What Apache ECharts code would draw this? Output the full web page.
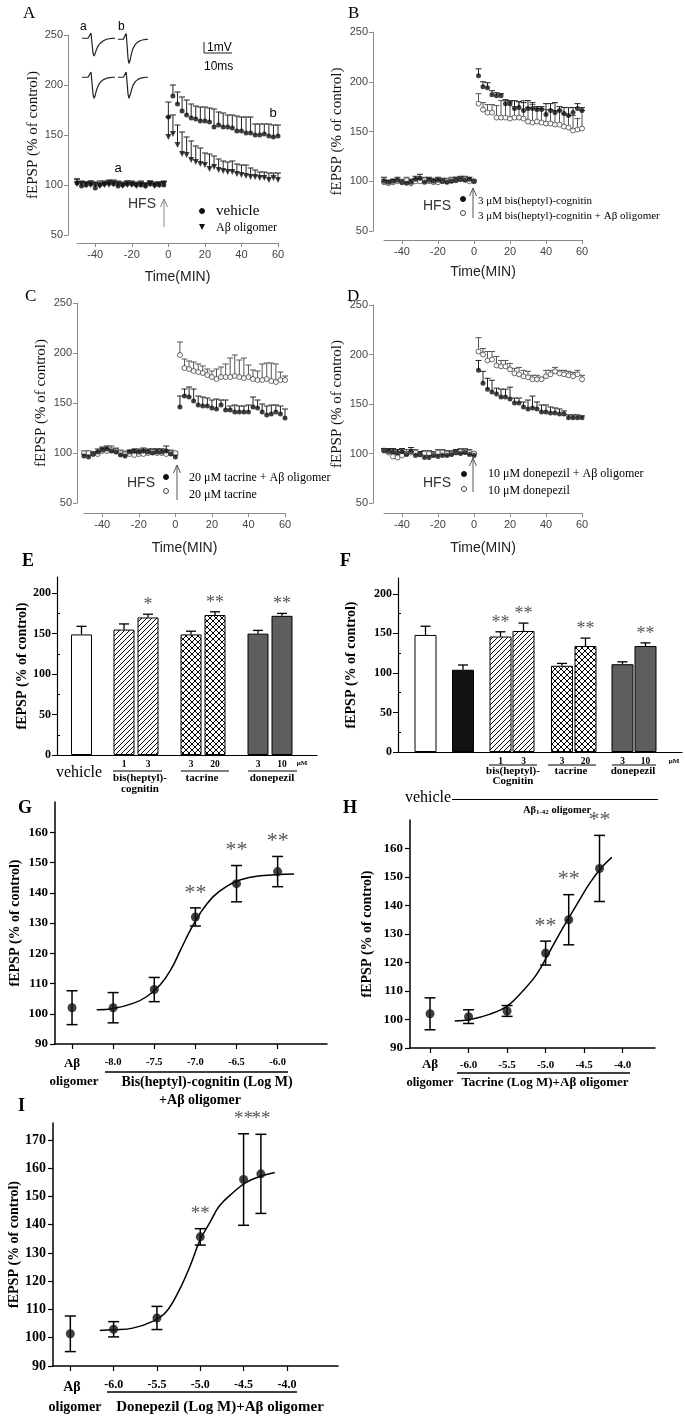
<!DOCTYPE html>
<html><head><meta charset="utf-8">
<script src="https://cdn.jsdelivr.net/npm/echarts@6.0.0/dist/echarts.min.js"></script>
<style>html,body{margin:0;padding:0;background:#fff}#c{width:685px;height:1417px}</style>
</head><body><div id="c"></div>
<script>
// ===================== DATA =====================
// Time-course panels (minutes)
const TIME_TICKS = [-40,-20,0,20,40,60];
const PRE_A  = [-50,-47.5,-45,-42.5,-40,-37.5,-35,-32.5,-30,-27.5,-25,-22.5,-20,-17.5,-15,-12.5,-10,-7.5,-5,-2.5];
const POST_A = [0,2.5,5,7.5,10,12.5,15,17.5,20,22.5,25,27.5,30,32.5,35,37.5,40,42.5,45,47.5,50,52.5,55,57.5,60];
const PRE  = [-50,-47.5,-45,-42.5,-40,-37.5,-35,-32.5,-30,-27.5,-25,-22.5,-20,-17.5,-15,-12.5,-10,-7.5,-5,-2.5,0];
const POST = [2.5,5,7.5,10,12.5,15,17.5,20,22.5,25,27.5,30,32.5,35,37.5,40,42.5,45,47.5,50,52.5,55,57.5,60];

// A: vehicle (filled circle) / A-beta oligomer (triangle)
const A_VEH_PRE      = [102,99,100,101,97,100,101,102,101,99,100,101,101,100,100,99,101,100,100,100];
const A_VEH_PRE_ERR  = [4,3,3,3,3,4,3,3,4,5,3,3,3,3,3,3,3,3,3,3];
const A_OLI_PRE      = [101,101,100,100,100,99,100,100,101,100,99,100,100,99,100,99,101,99,100,101];
const A_OLI_PRE_ERR  = [5,3,3,4,3,3,3,4,3,3,3,4,3,3,4,3,3,3,3,3];
const A_VEH_POST     = [168,189,181,174,170,167,166,164,164,163,158,160,158,158,157,154,154,152,152,150,150,151,149,148,149];
const A_VEH_POST_ERR = [15,11,12,14,15,14,13,14,14,14,18,13,14,12,13,15,14,16,16,11,11,10,12,12,11];
const A_OLI_POST     = [148,151,140,131,130,125,123,121,120,116,118,115,114,113,113,111,110,109,108,108,107,107,105,107,105];
const A_OLI_POST_ERR = [20,19,20,22,18,19,16,16,12,15,11,11,10,10,11,10,10,11,9,7,6,6,7,5,7];

// A inset traces (mV)
const TRACE_VEH_A = [0,0,0,0,0,0,0,0,0,0.5,-0.5,-1.4,-1.7,-1.5,-1.2,-0.95,-0.75,-0.6,-0.5,-0.4,-0.32,-0.26,-0.2,-0.16,-0.12,-0.09,-0.07,-0.05,-0.03,-0.02,-0.01,0,0,0];
const TRACE_VEH_B = [0,0,0,0,0,0,0,0,0,0.6,-0.6,-1.8,-2.3,-2.1,-1.7,-1.3,-1.0,-0.8,-0.65,-0.5,-0.4,-0.32,-0.25,-0.2,-0.15,-0.12,-0.09,-0.07,-0.05,-0.03,-0.02,-0.01,0,0];
const TRACE_OLI_A = [0,0,0,0,0,0,0,0,0,0.5,-0.5,-1.6,-2.0,-1.8,-1.4,-1.1,-0.85,-0.65,-0.5,-0.4,-0.32,-0.25,-0.2,-0.15,-0.12,-0.09,-0.07,-0.05,-0.03,-0.02,-0.01,0,0,0];
const TRACE_OLI_B = [0,0,0,0,0,0,0,0,0,0.5,-0.5,-1.6,-2.0,-1.85,-1.5,-1.15,-0.9,-0.7,-0.55,-0.42,-0.33,-0.26,-0.2,-0.15,-0.12,-0.09,-0.07,-0.05,-0.03,-0.02,-0.01,0,0,0];

// B: 3 uM bis(heptyl)-cognitin (filled) / + A-beta oligomer (open)
const B_FILL_PRE      = [100,99,100,101,99,98,99,102,103,99,101,100,101,100,99,100,101,102,101,102,100];
const B_FILL_PRE_ERR  = [4,2,2,3,2,2,3,3,4,2,3,2,3,3,2,2,3,3,3,2,1];
const B_OPEN_PRE      = [99,98,99,100,99,101,98,100,100,101,100,99,99,100,100,101,101,102,102,100,100];
const B_OPEN_PRE_ERR  = [3,2,3,2,3,3,4,3,3,3,3,4,3,2,3,3,3,2,3,2,1];
const B_FILL_POST     = [206,195,194,187,186,186,178,178,173,174,171,173,173,172,172,167,171,169,171,168,166,169,173,171];
const B_FILL_POST_ERR = [7,5,5,4,3,2,4,3,8,6,8,8,6,3,3,11,7,10,4,6,8,5,5,3];
const B_OPEN_POST     = [178,172,169,169,164,164,164,163,164,164,163,160,159,160,159,158,158,157,157,155,154,151,152,153];
const B_OPEN_POST_ERR = [10,7,8,8,12,17,17,17,11,16,18,14,18,13,14,14,14,14,14,13,12,15,11,18];

// C: 20 uM tacrine + A-beta (filled) / 20 uM tacrine (open)
const C_FILL_PRE      = [97,96,99,101,103,104,102,101,98,97,101,102,101,102,101,100,101,101,102,99,96];
const C_FILL_PRE_ERR  = [2,2,2,3,3,3,2,3,3,3,2,2,3,3,3,4,3,3,5,3,2];
const C_OPEN_PRE      = [100,100,99,99,102,102,103,102,100,99,99,98,99,99,100,101,100,100,99,100,100];
const C_OPEN_PRE_ERR  = [2,2,2,2,3,3,4,3,3,3,3,3,3,4,3,3,4,4,4,3,1];
const C_FILL_POST     = [146,157,156,152,148,147,147,145,144,148,143,143,141,141,141,141,146,145,141,138,139,141,139,135];
const C_FILL_POST_ERR = [11,7,10,12,9,9,8,8,10,5,10,4,7,6,6,7,10,8,8,9,9,7,8,9];
const C_OPEN_POST     = [198,185,184,182,181,180,178,176,174,176,176,176,177,176,175,176,174,173,173,174,172,171,173,173];
const C_OPEN_POST_ERR = [13,9,8,9,8,7,6,6,10,10,13,19,21,17,20,12,9,9,16,16,18,18,8,4];

// D: 10 uM donepezil + A-beta (filled) / 10 uM donepezil (open)
const D_FILL_PRE      = [103,102,102,101,102,99,102,98,99,96,96,98,97,98,98,99,101,100,101,99,98];
const D_FILL_PRE_ERR  = [2,3,3,3,3,3,4,3,3,3,2,3,3,3,3,3,3,3,3,3,2];
const D_OPEN_PRE      = [103,101,97,96,98,100,101,101,99,100,100,99,101,101,100,100,101,102,102,101,100];
const D_OPEN_PRE_ERR  = [2,3,3,3,3,4,3,3,3,3,3,3,3,3,3,3,3,3,3,3,1];
const D_FILL_POST     = [184,171,165,162,160,157,157,155,151,151,147,145,146,145,142,142,141,141,140,140,136,136,136,136];
const D_FILL_POST_ERR = [10,12,11,12,6,8,8,12,5,5,5,9,12,7,7,7,6,5,5,3,3,3,3,2];
const D_OPEN_POST     = [203,200,194,195,189,188,188,185,181,180,178,177,175,175,175,178,180,183,181,180,179,178,180,175];
const D_OPEN_POST_ERR = [14,6,9,8,9,6,6,6,5,7,6,6,4,4,2,6,4,4,3,4,4,4,4,4];

// E: bars
const E_DOSE  = ['', '1','3','3','20','3','10'];
const E_VALS  = [149,155,170,149,173,150,172];
const E_ERR   = [10,7,4,4,4,4,3];
const E_STARS = ['','','*','','**','','**'];
// F: bars
const F_DOSE  = ['', '', '1','3','3','20','3','10'];
const F_VALS  = [148,104,146,153,109,134,111,134];
const F_ERR   = [11,6,6,10,3,10,3,4];
const F_STARS = ['','','**','**','','**','','**'];

// G: bis(heptyl)-cognitin dose response (first x = A-beta oligomer alone)
const G_X = [-8.5,-8,-7.5,-7,-6.5,-6];
const G_Y = [102,102,108,132,143,147];
const G_ERR = [5.6,5,4,3,6,5];
const G_STARS = ['','','','**','**','**'];
const G_TICKS = [-8.0,-7.5,-7.0,-6.5,-6.0];
const G_FIT_X = [-8.2,-8.0,-7.75,-7.59,-7.43,-7.3,-7.18,-7.06,-6.94,-6.78,-6.61,-6.45,-6.21,-5.8];
const G_FIT_Y = [101.3,101.7,103.5,105.7,109.5,114.5,121.1,127.7,133.3,138.8,142.3,144.3,145.6,146.2];
// H: tacrine
const H_X = [-6.5,-6,-5.5,-5,-4.7,-4.3];
const H_Y = [102,101,103,123.3,135,153];
const H_ERR = [5.6,2.4,1.9,4.2,8.8,11.6];
const H_STARS = ['','','','**','**','**'];
const H_TICKS = [-6.0,-5.5,-5.0,-4.5,-4.0];
const H_FIT_X = [-6.18,-5.98,-5.72,-5.5,-5.29,-5.11,-4.94,-4.77,-4.59,-4.42,-4.25,-4.14];
const H_FIT_Y = [99.5,100.0,101.9,104.7,110.2,116.1,124.2,132.4,140.6,148.1,154.0,156.9];
// I: donepezil
const I_X = [-6.5,-6,-5.5,-5,-4.5,-4.3];
const I_Y = [101.4,103,107,135.7,156,158];
const I_ERR = [6.3,2.7,4.1,2.9,16.2,14];
const I_STARS = ['','','','**','**','**'];
const I_TICKS = [-6.0,-5.5,-5.0,-4.5,-4.0];
const I_FIT_X = [-6.16,-6.0,-5.78,-5.55,-5.39,-5.24,-5.12,-5.0,-4.89,-4.78,-4.62,-4.47,-4.31,-4.14];
const I_FIT_Y = [102.6,102.8,103.4,105.8,109.3,117.0,125.2,134.8,140.7,146.6,151.4,155.0,157.1,158.5];

// ===================== LAYOUT / STYLE =====================
const SERIF='"Liberation Serif","Times New Roman",serif';
const SANS='"Liberation Sans",Arial,sans-serif';
const E_POS = [24.5,67,91,134,158,201,225];
const F_POS = [27.5,65,102.5,125.5,164,187.5,224.5,247.5];
const E_FILLS = ['white','hatch','hatch','cross','cross','gray','gray'];
const F_FILLS = ['white','black','hatch','hatch','cross','cross','gray','gray'];

const option = {animation:false, backgroundColor:'#ffffff', grid:[], xAxis:[], yAxis:[], series:[], graphic:[]};
const GR = option.graphic;

function addAxes(g, x, y){
  option.grid.push(Object.assign({containLabel:false}, g));
  const gi = option.grid.length-1;
  option.xAxis.push(Object.assign({gridIndex:gi}, x));
  option.yAxis.push(Object.assign({gridIndex:gi}, y));
  return {gi, xi:option.xAxis.length-1, yi:option.yAxis.length-1};
}
function txt(x,y,text,o){
  o=o||{};
  const st={text, fill:o.color||'#000', font:(o.weight||'normal')+' '+(o.size||12)+'px '+(o.family||SERIF),
    align:o.align||'left', verticalAlign:'middle', textAlign:o.align||'left', textVerticalAlign:'middle'};
  if(o.rich) st.rich=o.rich;
  GR.push({type:'text', x, y, silent:true, style:st});
}
function hline(x1,x2,y,w,c){ GR.push({type:'line', silent:true, shape:{x1,y1:y,x2,y2:y}, style:{stroke:c||'#000', lineWidth:w||1}}); }
function vline(x,y1,y2,w,c){ GR.push({type:'line', silent:true, shape:{x1:x,y1,x2:x,y2}, style:{stroke:c||'#000', lineWidth:w||1}}); }
function arrow(x,yb,yt,c){
  vline(x,yb,yt,1,c);
  GR.push({type:'polyline', silent:true, shape:{points:[[x-3.5,yt+8],[x,yt],[x+3.5,yt+8]]}, style:{stroke:c, fill:null, lineWidth:1}});
}
function dot(cx,cy,open){ GR.push({type:'circle', silent:true, shape:{cx,cy,r:2.5}, style:{fill:open?'#fff':'#111', stroke:open?'#444':'#111', lineWidth:1}}); }

// ---------- time course helpers ----------
function upperErr(ax,t,v,e,color){
  return {type:'custom', xAxisIndex:ax.xi, yAxisIndex:ax.yi, silent:true, clip:false, z:2,
    data:t.map((x,i)=>[x,v[i],e[i]]),
    renderItem(p,api){
      const x=api.value(0), y=api.value(1), er=api.value(2);
      const a=api.coord([x,y]), b=api.coord([x,y+er]);
      return {type:'group', children:[
        {type:'line', shape:{x1:a[0],y1:a[1],x2:b[0],y2:b[1]}, style:{stroke:color,lineWidth:1}},
        {type:'line', shape:{x1:b[0]-3,y1:b[1],x2:b[0]+3,y2:b[1]}, style:{stroke:color,lineWidth:1}}]};
    }};
}
function pts(ax,t,v,kind){
  const s={type:'scatter', xAxisIndex:ax.xi, yAxisIndex:ax.yi, silent:true, z:3, data:t.map((x,i)=>[x,v[i]])};
  if(kind==='fill') Object.assign(s,{symbol:'circle',symbolSize:5,itemStyle:{color:'#111'}});
  if(kind==='open') Object.assign(s,{symbol:'circle',symbolSize:5,itemStyle:{color:'#fff',borderColor:'#444',borderWidth:1}});
  if(kind==='tri') Object.assign(s,{symbol:'triangle',symbolRotate:180,symbolSize:6,itemStyle:{color:'#111'}});
  return s;
}
function timeAxes(L){
  const gray='#8a8a8a';
  return addAxes({left:L.left, top:L.top, width:L.width, height:L.height},
    {type:'value', min:-50, max:60, offset:L.xOff,
     axisLine:{show:true,onZero:false,lineStyle:{color:gray,width:1}},
     axisTick:{show:true,length:4,customValues:TIME_TICKS,lineStyle:{color:gray}},
     axisLabel:{customValues:TIME_TICKS,color:'#444',fontFamily:SANS,fontSize:11,margin:6},
     splitLine:{show:false},
     name:'Time(MIN)', nameLocation:'middle', nameGap:L.xGap, nameTextStyle:{fontFamily:SANS,fontSize:14,color:'#222'}},
    {type:'value', min:50, max:250, interval:50, offset:L.yOff,
     axisLine:{show:true,onZero:false,lineStyle:{color:gray,width:1}},
     axisTick:{show:true,length:4,lineStyle:{color:gray}},
     axisLabel:{color:'#444',fontFamily:SANS,fontSize:11,margin:5},
     splitLine:{show:false},
     name:'fEPSP (% of control)', nameLocation:'middle', nameGap:L.yGap, nameTextStyle:{fontFamily:SERIF,fontSize:15,color:'#111'}});
}
function addGroup(ax,t,v,e,kind){
  option.series.push(upperErr(ax,t,v,e,kind==='open'?'#555':'#222'));
  option.series.push(pts(ax,t,v,kind));
}

// ---------- Panel A ----------
const axA = timeAxes({left:77,top:35,width:201,height:200,xOff:8,yOff:9,xGap:27,yGap:26});
addGroup(axA,PRE_A,A_OLI_PRE,A_OLI_PRE_ERR,'tri');
addGroup(axA,PRE_A,A_VEH_PRE,A_VEH_PRE_ERR,'fill');
addGroup(axA,POST_A,A_OLI_POST,A_OLI_POST_ERR,'tri');
addGroup(axA,POST_A,A_VEH_POST,A_VEH_POST_ERR,'fill');
// inset traces
function traceGrid(left,top,w,data){
  const ax = addAxes({left,top,width:w,height:31.5},
    {type:'category', show:false, boundaryGap:false, data:data.map((_,i)=>i)},
    {type:'value', show:false, min:-2.5, max:0.5});
  option.series.push({type:'line', xAxisIndex:ax.xi, yAxisIndex:ax.yi, data, showSymbol:false, silent:true,
    lineStyle:{color:'#222',width:1.2}});
}
traceGrid(82,33,33,TRACE_VEH_A);
traceGrid(118,34,30,TRACE_VEH_B);
traceGrid(82,72,33,TRACE_OLI_A);
traceGrid(118,72,30,TRACE_OLI_B);

// ---------- Panel B ----------
const axB = timeAxes({left:384,top:32,width:198,height:199,xOff:9,yOff:11,xGap:25,yGap:28});
addGroup(axB,PRE,B_OPEN_PRE,B_OPEN_PRE_ERR,'open');
addGroup(axB,PRE,B_FILL_PRE,B_FILL_PRE_ERR,'fill');
addGroup(axB,POST,B_OPEN_POST,B_OPEN_POST_ERR,'open');
addGroup(axB,POST,B_FILL_POST,B_FILL_POST_ERR,'fill');
// ---------- Panel C ----------
const axC = timeAxes({left:84,top:303,width:201,height:200,xOff:10,yOff:7,xGap:28,yGap:28});
addGroup(axC,PRE,C_OPEN_PRE,C_OPEN_PRE_ERR,'open');
addGroup(axC,PRE,C_FILL_PRE,C_FILL_PRE_ERR,'fill');
addGroup(axC,POST,C_OPEN_POST,C_OPEN_POST_ERR,'open');
addGroup(axC,POST,C_FILL_POST,C_FILL_POST_ERR,'fill');
// ---------- Panel D ----------
const axD = timeAxes({left:384,top:305,width:198,height:198,xOff:10,yOff:11,xGap:28,yGap:28});
addGroup(axD,PRE,D_OPEN_PRE,D_OPEN_PRE_ERR,'open');
addGroup(axD,PRE,D_FILL_PRE,D_FILL_PRE_ERR,'fill');
addGroup(axD,POST,D_OPEN_POST,D_OPEN_POST_ERR,'open');
addGroup(axD,POST,D_FILL_POST,D_FILL_POST_ERR,'fill');

// ---------- bar panels ----------
function pattern(kind){
  const c=document.createElement('canvas');
  const s=kind==='cross'?6:5; c.width=s; c.height=s;
  const g=c.getContext('2d'); g.fillStyle='#fff'; g.fillRect(0,0,s,s);
  g.strokeStyle='#000'; g.lineWidth=1;
  g.beginPath(); g.moveTo(-1,s+1); g.lineTo(s+1,-1); g.moveTo(-1,1); g.lineTo(1,-1); g.moveTo(s-1,s+1); g.lineTo(s+1,s-1); g.stroke();
  if(kind==='cross'){ g.beginPath(); g.moveTo(-1,-1); g.lineTo(s+1,s+1); g.moveTo(s-1,-1); g.lineTo(s+1,1); g.moveTo(-1,s-1); g.lineTo(1,s+1); g.stroke(); }
  return {image:c, repeat:'repeat'};
}
const FILLS = {white:'#ffffff', black:'#111111', gray:'#5e5e5e', hatch:pattern('hatch'), cross:pattern('cross')};
function barAxes(L,pos,dose){
  const ax = addAxes({left:L.left,top:L.top,width:L.width,height:L.height},
    {type:'value', min:0, max:L.width,
     axisLine:{show:true,onZero:false,lineStyle:{color:'#000',width:1.2}},
     axisTick:{show:false}, splitLine:{show:false},
     axisLabel:{customValues:pos.filter((p,i)=>dose[i]!==''), formatter:v=>dose[pos.indexOf(v)],
       fontFamily:SERIF,fontWeight:'bold',fontSize:9.5,color:'#000',margin:5}},
    {type:'value', min:0, max:220,
     axisLine:{show:true,onZero:false,lineStyle:{color:'#000',width:1.2}},
     axisTick:{show:true,length:5,customValues:[0,50,100,150,200],lineStyle:{color:'#000'}},
     axisLabel:{customValues:[0,50,100,150,200],fontFamily:SERIF,fontWeight:'bold',fontSize:12,color:'#000',margin:6},
     splitLine:{show:false},
     name:'fEPSP (% of control)', nameLocation:'middle', nameGap:L.yGap,
     nameTextStyle:{fontFamily:SERIF,fontSize:14,fontWeight:'bold',color:'#000'}});
  option.yAxis.push({gridIndex:ax.gi, type:'value', min:0, max:220, axisLine:{show:false},
    axisTick:{show:true,length:3,customValues:[25,75,125,175],lineStyle:{color:'#000'}},
    axisLabel:{show:false}, splitLine:{show:false}});
  return ax;
}
function barSeries(ax,pos,vals,errs,stars,fills,width){
  option.series.push({type:'bar', xAxisIndex:ax.xi, yAxisIndex:ax.yi, barWidth:width, silent:true, z:2,
    data:vals.map((v,i)=>({value:[pos[i],v], itemStyle:{color:FILLS[fills[i]], borderColor:'#000', borderWidth:1}}))});
  option.series.push({type:'custom', xAxisIndex:ax.xi, yAxisIndex:ax.yi, silent:true, clip:false, z:3,
    data:vals.map((v,i)=>[pos[i],v,errs[i]]),
    renderItem(p,api){
      const x=api.value(0), y=api.value(1), e=api.value(2);
      const a=api.coord([x,y]), b=api.coord([x,y+e]);
      const ch=[{type:'line',shape:{x1:a[0],y1:a[1],x2:b[0],y2:b[1]},style:{stroke:'#000',lineWidth:1.3}},
        {type:'line',shape:{x1:b[0]-5,y1:b[1],x2:b[0]+5,y2:b[1]},style:{stroke:'#000',lineWidth:1.3}}];
      const s=stars[p.dataIndex];
      if(s) ch.push({type:'text',x:b[0],y:b[1]-9,style:{text:s,fill:'#555',font:'normal 18px '+SERIF,align:'center',verticalAlign:'middle'}});
      return {type:'group',children:ch};
    }});
}
const axE = barAxes({left:57,top:577,width:260,height:178,yGap:24},E_POS,E_DOSE);
barSeries(axE,E_POS,E_VALS,E_ERR,E_STARS,E_FILLS,21);
const axF = barAxes({left:398,top:578,width:284,height:174,yGap:40},F_POS,F_DOSE);
barSeries(axF,F_POS,F_VALS,F_ERR,F_STARS,F_FILLS,22);

// ---------- dose-response panels ----------
function drAxes(L,ticks,allTicks,yLabels){
  return addAxes({left:L.left,top:L.top,width:L.width,height:L.height},
    {type:'value', min:L.xmin, max:L.xmax,
     axisLine:{show:true,onZero:false,lineStyle:{color:'#000',width:1.5}},
     axisTick:{show:true,length:5,customValues:allTicks,lineStyle:{color:'#000',width:1.2}},
     axisLabel:{customValues:ticks, formatter:v=>v.toFixed(1), fontFamily:SERIF,fontWeight:'bold',fontSize:L.xfs,color:'#000',margin:L.xm},
     splitLine:{show:false}},
    {type:'value', min:90, max:L.ymax,
     axisLine:{show:true,onZero:false,lineStyle:{color:'#000',width:1.5}},
     axisTick:{show:true,length:5,customValues:yLabels,lineStyle:{color:'#000',width:1.2}},
     axisLabel:{customValues:yLabels,fontFamily:SERIF,fontWeight:'bold',fontSize:L.yfs,color:'#000',margin:7},
     splitLine:{show:false},
     name:'fEPSP (% of control)', nameLocation:'middle', nameGap:L.yGap,
     nameTextStyle:{fontFamily:SERIF,fontSize:14,fontWeight:'bold',color:'#000'}});
}
function drSeries(ax,xs,ys,es,stars,fx,fy,starSize){
  option.series.push({type:'line', xAxisIndex:ax.xi, yAxisIndex:ax.yi, silent:true, z:2, smooth:0.4, showSymbol:false,
    data:fx.map((x,i)=>[x,fy[i]]), lineStyle:{color:'#000',width:1.5}});
  option.series.push({type:'custom', xAxisIndex:ax.xi, yAxisIndex:ax.yi, silent:true, clip:false, z:3,
    data:xs.map((x,i)=>[x,ys[i],es[i]]),
    renderItem(p,api){
      const x=api.value(0), y=api.value(1), e=api.value(2);
      const lo=api.coord([x,y-e]), hi=api.coord([x,y+e]);
      const ln=(a,b)=>({type:'line',shape:{x1:a[0],y1:a[1],x2:b[0],y2:b[1]},style:{stroke:'#000',lineWidth:1.5}});
      const ch=[ln(lo,hi), ln([lo[0]-5.5,lo[1]],[lo[0]+5.5,lo[1]]), ln([hi[0]-5.5,hi[1]],[hi[0]+5.5,hi[1]])];
      const s=stars[p.dataIndex];
      if(s) ch.push({type:'text',x:hi[0],y:hi[1]-15,style:{text:s,fill:'#555',font:'normal '+starSize+'px '+SERIF,align:'center',verticalAlign:'middle'}});
      return {type:'group',children:ch};
    }});
  option.series.push({type:'scatter', xAxisIndex:ax.xi, yAxisIndex:ax.yi, silent:true, z:4, symbol:'circle', symbolSize:9,
    data:xs.map((x,i)=>[x,ys[i]]), itemStyle:{color:'#111'}});
}
const axG = drAxes({left:55,top:802,width:272,height:242,xmin:-8.707,xmax:-5.40,ymax:170,xfs:10.5,xm:13,yfs:13,yGap:33},
  G_TICKS,[-8.5].concat(G_TICKS),[90,100,110,120,130,140,150,160]);
drSeries(axG,G_X,G_Y,G_ERR,G_STARS,G_FIT_X,G_FIT_Y,22);
const axH = drAxes({left:410,top:820,width:245,height:228,xmin:-6.76,xmax:-3.58,ymax:170,xfs:11,xm:12,yfs:13,yGap:36},
  H_TICKS,[-6.5].concat(H_TICKS),[90,100,110,120,130,140,150,160]);
drSeries(axH,H_X,H_Y,H_ERR,H_STARS,H_FIT_X,H_FIT_Y,22);
const axI = drAxes({left:53,top:1123,width:285,height:243,xmin:-6.70,xmax:-3.41,ymax:176,xfs:12,xm:13,yfs:14,yGap:32},
  I_TICKS,[-6.5].concat(I_TICKS),[90,100,110,120,130,140,150,160,170]);
drSeries(axI,I_X,I_Y,I_ERR,I_STARS,I_FIT_X,I_FIT_Y,19);

// ===================== ANNOTATIONS =====================
// panel letters
txt(23,14,'A',{size:17}); txt(348,14,'B',{size:17}); txt(25,297,'C',{size:17}); txt(347,297,'D',{size:17});
txt(22,561,'E',{size:18,weight:'bold'}); txt(340,561,'F',{size:18,weight:'bold'});
txt(18,808,'G',{size:18,weight:'bold'}); txt(343,808,'H',{size:18,weight:'bold'}); txt(18,1106,'I',{size:18,weight:'bold'});

// A
txt(80,27,'a',{family:SANS,size:12}); txt(118,27,'b',{family:SANS,size:12});
vline(204,42,53,1,'#222'); hline(204,232,53,1,'#222');
txt(207,48,'1mV',{family:SANS,size:12}); txt(204,67,'10ms',{family:SANS,size:12});
txt(118,168,'a',{family:SANS,size:13,align:'center'}); txt(273,113,'b',{family:SANS,size:13,align:'center'});
txt(128,204,'HFS',{family:SANS,size:14,color:'#333'});
arrow(164,227,199,'#888');
dot(202,211,false); txt(216,211,'vehicle',{size:15});
GR.push({type:'polygon',silent:true,shape:{points:[[199,224],[205,224],[202,230]]},style:{fill:'#111'}});
txt(216,228,'Aβ oligomer',{size:12});
// B
txt(423,206,'HFS',{family:SANS,size:14,color:'#333'});
arrow(473,218,188,'#555');
dot(463,199,false); dot(463,213,true);
txt(478,201,'3 μM bis(heptyl)-cognitin',{size:11}); txt(478,216,'3 μM bis(heptyl)-cognitin + Aβ oligomer',{size:11});
// C
txt(127,483,'HFS',{family:SANS,size:14,color:'#333'});
arrow(177,500,465,'#555');
dot(166,477,false); dot(166,491,true);
txt(189,478,'20 μM tacrine + Aβ oligomer',{size:12}); txt(189,495,'20 μM tacrine',{size:12});
// D
txt(423,483,'HFS',{family:SANS,size:14,color:'#333'});
arrow(473,492,458,'#555');
dot(464,474,false); dot(464,489,true);
txt(488,474,'10 μM donepezil + Aβ oligomer',{size:12}); txt(488,491,'10 μM donepezil',{size:12});

// E x annotations
const BOLD={weight:'bold',size:11,align:'center'};
hline(113,162,771,1.2); hline(181,229,771,1.2); hline(248,297,771,1.2);
txt(140,778,'bis(heptyl)-',BOLD); txt(140,789,'cognitin',BOLD); txt(202,778,'tacrine',BOLD); txt(272,778,'donepezil',BOLD);
txt(79,773,'vehicle',{size:16,align:'center'}); txt(302,763,'μM',{weight:'bold',size:7,align:'center'});
// F x annotations
hline(489,537,765,1.2); hline(548,596,765,1.2); hline(612,656,765,1.2);
txt(513,771,'bis(heptyl)-',BOLD); txt(513,781,'Cognitin',BOLD); txt(571,771,'tacrine',BOLD); txt(633,771,'donepezil',BOLD);
txt(674,761,'μM',{weight:'bold',size:7,align:'center'});
txt(428,798,'vehicle',{size:16,align:'center'}); hline(452,658,799.5,1.2);
txt(557,810,'{a|Aβ}{s|1-42}{a| oligomer}',{align:'center',rich:{a:{fontFamily:SERIF,fontWeight:'bold',fontSize:10.5},s:{fontFamily:SERIF,fontWeight:'bold',fontSize:7,padding:[5,0,0,0]}}});
// G
hline(105,288,1072,1.5);
txt(72,1064,'Aβ',{weight:'bold',size:13,align:'center'}); txt(74,1081.5,'oligomer',{weight:'bold',size:13,align:'center'});
txt(207,1082,'Bis(heptyl)-cognitin (Log M)',{weight:'bold',size:14,align:'center'});
txt(200,1100,'+Aβ oligomer',{weight:'bold',size:14,align:'center'});
// H
hline(457,630,1073,1.5);
txt(430,1065,'Aβ',{weight:'bold',size:13,align:'center'}); txt(430,1083,'oligomer',{weight:'bold',size:12.5,align:'center'});
txt(545,1083,'Tacrine (Log M)+Aβ oligomer',{weight:'bold',size:13,align:'center'});
// I
hline(107,297,1392,1.5);
txt(72,1387,'Aβ',{weight:'bold',size:14,align:'center'}); txt(75,1407,'oligomer',{weight:'bold',size:14,align:'center'});
txt(220,1407,'Donepezil (Log M)+Aβ oligomer',{weight:'bold',size:15,align:'center'});

const chart = echarts.init(document.getElementById('c'), null, {renderer:'canvas', width:685, height:1417});
chart.setOption(option);
</script></body></html>
